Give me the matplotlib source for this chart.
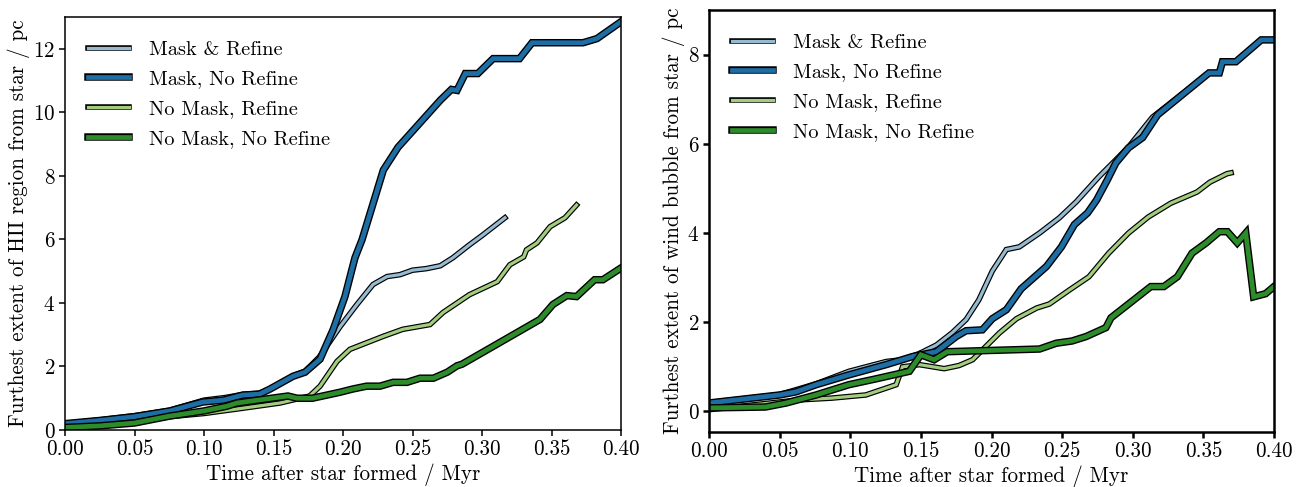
import matplotlib
matplotlib.use("Agg")
import matplotlib.pyplot as plt
import matplotlib.patheffects as pe

plt.rcParams['font.family'] = ['cmr10', 'DejaVu Serif']
plt.rcParams['mathtext.fontset'] = 'cm'
plt.rcParams['axes.formatter.use_mathtext'] = True
plt.rcParams['axes.unicode_minus'] = False

labels = ["Mask & Refine", "Mask, No Refine", "No Mask, Refine", "No Mask, No Refine"]
colors = ["#96bad0", "#1e6ea6", "#a2cd7f", "#2d8c2a"]

# ---------------- Left panel: HII region extent ----------------
hii_mr_t = [0.0, 0.025, 0.05, 0.075, 0.10, 0.115, 0.128, 0.14, 0.148, 0.164, 0.1727,
            0.183, 0.198, 0.21, 0.2216, 0.2317, 0.241, 0.25, 0.26, 0.27, 0.279, 0.291,
            0.30, 0.3165]
hii_mr_v = [0.2, 0.32, 0.45, 0.62, 0.94, 1.02, 1.12, 1.16, 1.3, 1.7, 1.85,
            2.3, 3.26, 3.95, 4.58, 4.83, 4.89, 5.03, 5.08, 5.17, 5.42, 5.83,
            6.12, 6.68]

hii_mnr_t = [0.0, 0.025, 0.05, 0.0755, 0.099, 0.114, 0.128, 0.14, 0.1475, 0.164, 0.1727,
             0.1835, 0.193, 0.2014, 0.2086, 0.2137, 0.229, 0.2396, 0.27, 0.278, 0.282,
             0.288, 0.297, 0.308, 0.327, 0.336, 0.3727, 0.3827, 0.40]
hii_mnr_v = [0.2, 0.3, 0.42, 0.6, 0.88, 0.94, 1.1, 1.13, 1.29, 1.69, 1.82,
             2.23, 3.17, 4.2, 5.42, 5.99, 8.18, 8.9, 10.38, 10.72, 10.69,
             11.22, 11.22, 11.69, 11.69, 12.19, 12.19, 12.32, 12.85]

hii_nmr_t = [0.0, 0.025, 0.05, 0.0755, 0.10, 0.1237, 0.1547, 0.176, 0.1835, 0.1957, 0.205,
             0.229, 0.243, 0.2626, 0.272, 0.291, 0.311, 0.32, 0.33, 0.332, 0.3396, 0.349,
             0.3597, 0.368]
hii_nmr_v = [0.08, 0.13, 0.22, 0.42, 0.52, 0.66, 0.85, 1.07, 1.38, 2.16, 2.54,
             2.95, 3.17, 3.32, 3.7, 4.26, 4.67, 5.2, 5.45, 5.67, 5.89, 6.4,
             6.68, 7.08]

hii_nmnr_t = [0.0, 0.025, 0.05, 0.0755, 0.10, 0.1165, 0.1237, 0.1604, 0.1669, 0.178, 0.198,
              0.207, 0.217, 0.2266, 0.236, 0.246, 0.2554, 0.265, 0.275, 0.282, 0.2856,
              0.3417, 0.351, 0.361, 0.368, 0.381, 0.387, 0.40]
hii_nmnr_v = [0.08, 0.13, 0.22, 0.44, 0.6, 0.75, 0.85, 1.07, 1.0, 1.0, 1.19,
              1.29, 1.38, 1.38, 1.5, 1.5, 1.63, 1.63, 1.82, 2.02, 2.07,
              3.48, 3.95, 4.23, 4.2, 4.73, 4.73, 5.1]

# ---------------- Right panel: wind bubble extent ----------------
wb_mr_t = [0.0, 0.05, 0.0758, 0.099, 0.1254, 0.1368, 0.149, 0.161, 0.172, 0.182, 0.191,
           0.2006, 0.2105, 0.2197, 0.234, 0.248, 0.26, 0.276, 0.288, 0.297, 0.314,
           0.354, 0.3613, 0.3635, 0.373, 0.391, 0.40]
wb_mr_v = [0.2, 0.38, 0.62, 0.9, 1.12, 1.16, 1.3, 1.49, 1.76, 2.06, 2.5,
           3.15, 3.63, 3.69, 4.0, 4.34, 4.7, 5.26, 5.64, 5.93, 6.6,
           7.59, 7.59, 7.84, 7.84, 8.33, 8.33]

wb_mnr_t = [0.0, 0.05, 0.0616, 0.0758, 0.099, 0.1254, 0.144, 0.161, 0.175, 0.182, 0.1935,
            0.2006, 0.2105, 0.221, 0.2389, 0.2495, 0.2587, 0.268, 0.2744, 0.282, 0.288,
            0.297, 0.307, 0.3176, 0.354, 0.3613, 0.3635, 0.373, 0.391, 0.40]
wb_mnr_v = [0.19, 0.37, 0.44, 0.6, 0.82, 1.05, 1.23, 1.34, 1.68, 1.81, 1.83,
            2.08, 2.28, 2.75, 3.25, 3.69, 4.19, 4.45, 4.74, 5.19, 5.57,
            5.91, 6.14, 6.65, 7.59, 7.59, 7.84, 7.84, 8.33, 8.33]

wb_nmr_t = [0.0, 0.0638, 0.087, 0.111, 0.1325, 0.137, 0.149, 0.1665, 0.177, 0.1866, 0.2056,
            0.2177, 0.232, 0.241, 0.255, 0.269, 0.283, 0.297, 0.311, 0.327, 0.3455,
            0.3546, 0.3667, 0.3696]
wb_nmr_v = [0.04, 0.26, 0.3, 0.37, 0.6, 1.0, 1.05, 0.96, 1.03, 1.16, 1.76,
            2.08, 2.32, 2.41, 2.72, 3.02, 3.55, 4.0, 4.36, 4.67, 4.92,
            5.14, 5.33, 5.35]

wb_nmnr_t = [0.0, 0.04, 0.0546, 0.0758, 0.099, 0.118, 0.1418, 0.150, 0.1594, 0.1687, 0.234,
             0.2458, 0.257, 0.267, 0.281, 0.2846, 0.3128, 0.322, 0.3316, 0.342, 0.352,
             0.3613, 0.367, 0.374, 0.380, 0.3856, 0.394, 0.40]
wb_nmnr_v = [0.08, 0.1, 0.19, 0.37, 0.6, 0.73, 0.9, 1.27, 1.16, 1.34, 1.4,
             1.53, 1.58, 1.68, 1.88, 2.1, 2.8, 2.8, 3.02, 3.55, 3.78,
             4.03, 4.03, 3.78, 4.0, 2.57, 2.64, 2.8]

xticks = [0.00, 0.05, 0.10, 0.15, 0.20, 0.25, 0.30, 0.35, 0.40]
xlabel = "Time after star formed / Myr"
ylabel_left = "Furthest extent of HII region from star / pc"
ylabel_right = "Furthest extent of wind bubble from star / pc"

inner_w = [2.3, 3.4, 2.3, 3.4]
outer_w = [4.0, 5.4, 4.0, 5.4]

FS = 15.2
LFS = 14.7

fig = plt.figure(figsize=(13.09, 4.87), dpi=100)
axL = fig.add_axes([65/1309, 1-430/487, 556/1309, 413/487])
axR = fig.add_axes([709/1309, 1-432/487, 565/1309, 422/487])

def draw(ax, series, spine_w):
    for (t, v), c, lab, iw, ow in zip(series, colors, labels, inner_w, outer_w):
        ax.plot(t, v, color=c, lw=iw, label=lab, solid_joinstyle='miter',
                path_effects=[pe.Stroke(linewidth=ow, foreground='black'), pe.Normal()])
    ax.set_xlim(0, 0.4)
    ax.set_xticks(xticks)
    ax.set_xticklabels(["%.2f" % x for x in xticks])
    ax.set_xlabel(xlabel, fontsize=FS, labelpad=3)
    ax.tick_params(direction='out', length=4, width=spine_w, labelsize=FS, pad=3)
    for s in ax.spines.values():
        s.set_linewidth(spine_w)
    leg = ax.legend(loc='upper left', frameon=False, fontsize=LFS,
                    handlelength=2.0, handletextpad=0.95, labelspacing=0.56,
                    borderaxespad=0.75)
    return leg

draw(axL, [(hii_mr_t, hii_mr_v), (hii_mnr_t, hii_mnr_v),
           (hii_nmr_t, hii_nmr_v), (hii_nmnr_t, hii_nmnr_v)], 1.1)
axL.set_ylim(0, 13)
axL.set_yticks([0, 2, 4, 6, 8, 10, 12])
axL.set_ylabel(ylabel_left, fontsize=FS, labelpad=2)

draw(axR, [(wb_mr_t, wb_mr_v), (wb_mnr_t, wb_mnr_v),
           (wb_nmr_t, wb_nmr_v), (wb_nmnr_t, wb_nmnr_v)], 1.8)
axR.set_ylim(-0.46, 9.0)
axR.set_yticks([0, 2, 4, 6, 8])
axR.set_ylabel(ylabel_right, fontsize=FS, labelpad=2)

fig.savefig("out.png", dpi=100)
